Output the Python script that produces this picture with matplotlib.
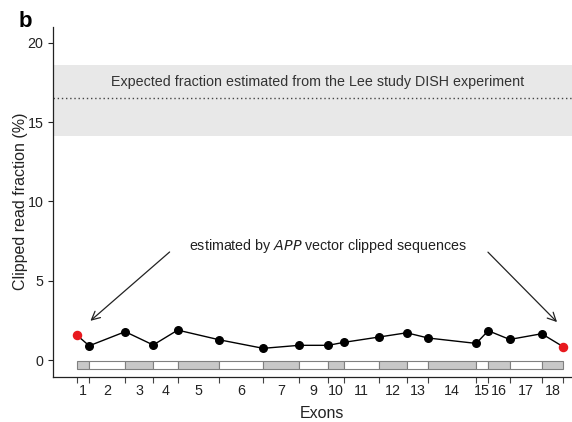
import matplotlib
matplotlib.use("Agg")
import matplotlib.pyplot as plt
from matplotlib.patches import Rectangle
import numpy as np

plt.rcParams['font.family'] = ['Liberation Sans', 'DejaVu Sans']

# --- data ---
exon_labels = ['1', '2', '3', '4', '5', '6', '7', '9', '10', '11', '12',
               '13', '14', '15', '16', '17', '18']
exon_lengths = [12.5, 36, 28, 24.5, 41.5, 44, 36, 29, 16, 34.5, 28, 21.5,
                48, 12, 21.5, 32, 21.5]
# clipped read fraction (%) at each exon boundary
clip_frac = [1.58, 0.90, 1.79, 0.95, 1.89, 1.28, 0.74, 0.93, 0.93, 1.12,
             1.45, 1.72, 1.39, 1.05, 1.85, 1.30, 1.66, 0.84]
expected_mean = 16.5
expected_low = 14.1
expected_high = 18.6

bounds = np.concatenate([[0], np.cumsum(exon_lengths)])
centers = (bounds[:-1] + bounds[1:]) / 2

fig = plt.figure(figsize=(5.72, 4.22), dpi=100)
ax = fig.add_axes([0.0932, 0.1073, 0.9068, 0.8294])

ax.set_xlim(-23.4, 495.3)
ax.set_ylim(-1.05, 21.02)

# expected band + dotted mean line
ax.axhspan(expected_low, expected_high, color='#e8e8e8', lw=0, zorder=0)
ax.axhline(expected_mean, color='#444444', ls=(0, (1, 2)), lw=1.0, zorder=1)
ax.text(241.3, 17.55, 'Expected fraction estimated from the Lee study DISH experiment',
        ha='center', va='center', fontsize=10.3, color='#333333')

# exon boxes
for i in range(len(exon_lengths)):
    fc = '#c8c8c8' if i % 2 == 0 else 'white'
    ax.add_patch(Rectangle((bounds[i], -0.58), exon_lengths[i], 0.53,
                           facecolor=fc, edgecolor='#808080', lw=0.8, zorder=2))

# line + points
ax.plot(bounds, clip_frac, color='black', lw=1.0, zorder=3)
ax.scatter(bounds[1:-1], clip_frac[1:-1], s=30, color='black', zorder=4)
ax.scatter([bounds[0], bounds[-1]], [clip_frac[0], clip_frac[-1]], s=34,
           color='#e8191e', zorder=4)

# annotation
ax.text(251.3, 7.2, 'estimated by $\\it{APP}$ vector clipped sequences',
        ha='center', va='center', fontsize=10.3, color='#222222')
arrow = dict(arrowstyle='->,head_length=0.6,head_width=0.3', color='#222222', lw=0.9)
ax.annotate('', xy=(bounds[0] + 11.6, 2.36), xytext=(95, 6.93), arrowprops=arrow)
ax.annotate('', xy=(bounds[-1] - 4.2, 2.27), xytext=(409.3, 6.93), arrowprops=arrow)

# axes styling
for s in ['top', 'right']:
    ax.spines[s].set_visible(False)
for s in ['left', 'bottom']:
    ax.spines[s].set_color('#222222')
    ax.spines[s].set_linewidth(0.9)

ax.set_yticks([0, 5, 10, 15, 20])
ax.tick_params(axis='y', labelsize=10.3, colors='#222222', length=3.5, width=0.8)

ax.set_xticks(bounds)
ax.set_xticklabels([''] * len(bounds))
ax.set_xticks(centers, minor=True)
ax.set_xticklabels(exon_labels, minor=True)
ax.tick_params(axis='x', which='major', length=4, width=0.8, color='#444444')
ax.tick_params(axis='x', which='minor', length=0, labelsize=10.3, colors='#222222', pad=5)

ax.set_ylabel('Clipped read fraction (%)', fontsize=11.5, color='#222222')
ax.yaxis.set_label_coords(-0.049, 0.5)
fig.text(0.563, 0.019, 'Exons', ha='center', va='center', fontsize=11.5, color='#222222')

fig.text(0.0437, 0.950, 'b', fontsize=16, fontweight='bold', ha='center', va='center')

fig.savefig('out.png', dpi=100)
